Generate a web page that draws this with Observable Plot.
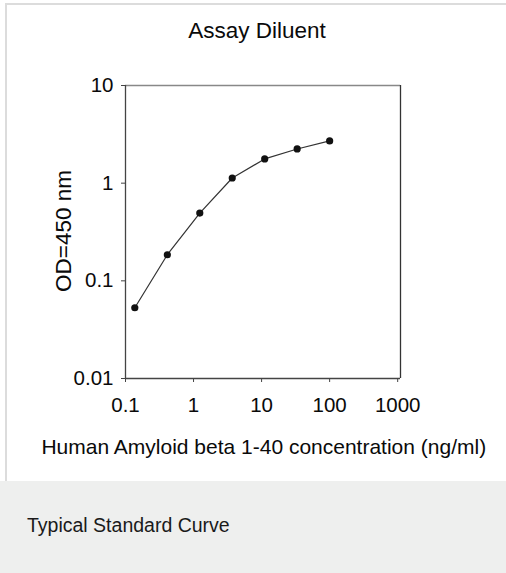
<!DOCTYPE html>
<html>
<head>
<meta charset="utf-8">
<script src="https://cdn.jsdelivr.net/npm/d3@7"></script>
<script src="https://cdn.jsdelivr.net/npm/@observablehq/plot@0.6"></script>
<style>
  html, body { margin: 0; padding: 0; background: #ffffff; }
  body { width: 506px; height: 573px; position: relative; overflow: hidden;
         font-family: "Liberation Sans", Arial, Helvetica, sans-serif; color: #0a0a0a; }
  #panel { position: absolute; left: 5px; top: 3px; width: 501px; height: 478px;
           box-sizing: border-box; border-top: 2px solid #dcdcdc; border-left: 2px solid #dcdcdc; background: #fff; }
  #footer { position: absolute; left: 0; top: 481px; width: 506px; height: 92px; background: #eeefee; }
  #chart { position: absolute; left: 0; top: 0; }
  .t { position: absolute; white-space: nowrap; line-height: 1; }
  #title { left: 257px; top: 20.3px; font-size: 22.5px; transform: translateX(-50%); }
  #ylabel { left: 64px; top: 231.4px; font-size: 22.5px; transform: translate(-50%, -50%) rotate(-90deg); }
  #xlabel { left: 263.8px; top: 435.5px; font-size: 21px; transform: translateX(-50%); }
  #caption { left: 27px; top: 516.3px; font-size: 19.5px; color: #1a1a1a; }
</style>
</head>
<body>
<div id="panel"></div>
<div id="footer"></div>
<div id="chart"></div>
<div class="t" id="title">Assay Diluent</div>
<div class="t" id="ylabel">OD=450 nm</div>
<div class="t" id="xlabel">Human Amyloid beta 1-40 concentration (ng/ml)</div>
<div class="t" id="caption">Typical Standard Curve</div>
<script>
// Data
const concentration = [0.137, 0.412, 1.235, 3.704, 11.11, 33.33, 100];
const od450 = [0.053, 0.185, 0.494, 1.13, 1.77, 2.24, 2.71];

const xTicks = [0.1, 1, 10, 100, 1000];
const xTickLabels = ["0.1", "1", "10", "100", "1000"];
const yTicks = [0.01, 0.1, 1, 10];
const yTickLabels = ["0.01", "0.1", "1", "10"];

const xDomain = [0.1, 1100];
const yDomain = [0.01, 10];

const data = concentration.map((c, i) => ({ c, od: od450[i] }));

const chart = Plot.plot({
  width: 506,
  height: 430,
  marginLeft: 125,
  marginRight: 106,
  marginTop: 85,
  marginBottom: 52,
  x: { type: "log", domain: xDomain },
  y: { type: "log", domain: yDomain },
  style: { fontFamily: "'Liberation Sans', Arial, Helvetica, sans-serif", fontSize: "20.5px", color: "#0a0a0a", background: "transparent" },
  marks: [
    Plot.ruleY([yDomain[1]], { stroke: "#888", strokeWidth: 1.5 }),
    Plot.ruleX([xDomain[1]], { stroke: "#333", strokeWidth: 1.3 }),
    Plot.ruleX([xDomain[0]], { stroke: "#444", strokeWidth: 1.3 }),
    Plot.ruleY([yDomain[0]], { stroke: "#444", strokeWidth: 1.3 }),
    Plot.axisX({
      ticks: xTicks,
      tickFormat: d => xTickLabels[xTicks.indexOf(d)],
      tickSize: 4, tickPadding: 14.5, fontSize: 20.5, label: null, stroke: "#444"
    }),
    Plot.axisY({
      ticks: yTicks,
      tickFormat: d => yTickLabels[yTicks.indexOf(d)],
      tickSize: 4, tickPadding: 8, fontSize: 20.5, label: null, stroke: "#444"
    }),
    Plot.line(data, { x: "c", y: "od", stroke: "#333", strokeWidth: 1.2 }),
    Plot.dot(data, { x: "c", y: "od", r: 3.6, fill: "#111", stroke: "none" })
  ]
});
document.getElementById("chart").appendChild(chart);
</script>
</body>
</html>
